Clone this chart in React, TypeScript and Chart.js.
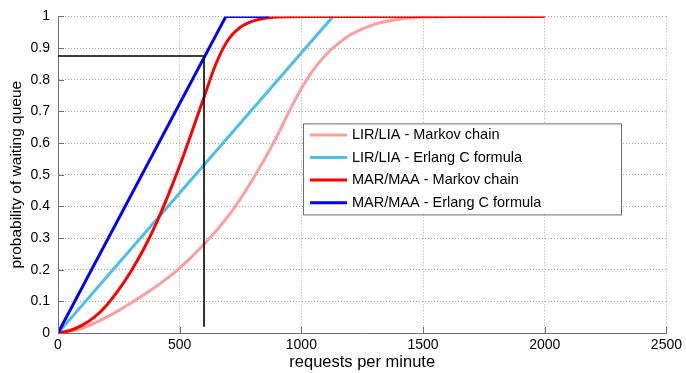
import React, { useEffect, useRef } from "react";
import { Chart, registerables } from "chart.js";

Chart.register(...registerables);

// ---- data ----
const xTickValues = [0, 500, 1000, 1500, 2000, 2500];
const yTickValues = [0, 0.1, 0.2, 0.3, 0.4, 0.5, 0.6, 0.7, 0.8, 0.9, 1];

const lirMarkovX = [0, 100, 200, 300, 400, 500, 600, 700, 800, 900, 950, 1000, 1050, 1100, 1150, 1200, 1300, 1400, 1500, 1600, 2000];
const lirMarkovY = [0, 0.015, 0.05, 0.095, 0.145, 0.205, 0.28, 0.37, 0.485, 0.622, 0.7, 0.772, 0.832, 0.878, 0.913, 0.941, 0.975, 0.991, 0.998, 1, 1];

const lirErlangX = [0, 1130];
const lirErlangY = [0, 1];

const marMarkovX = [0, 50, 100, 150, 200, 250, 300, 350, 400, 450, 500, 550, 600, 650, 700, 750, 800, 850, 900, 1000, 2000];
const marMarkovY = [0, 0.008, 0.025, 0.05, 0.088, 0.137, 0.195, 0.262, 0.34, 0.43, 0.528, 0.635, 0.745, 0.852, 0.927, 0.966, 0.985, 0.994, 0.998, 1, 1];

const marErlangX = [0, 690, 866];
const marErlangY = [0, 1, 1];

const markerX = [0, 600, 600];
const markerY = [0.875, 0.875, 0.02];

const seriesLabels = [
  "LIR/LIA - Markov chain",
  "LIR/LIA - Erlang C formula",
  "MAR/MAA - Markov chain",
  "MAR/MAA - Erlang C formula",
];
const seriesColors = ["#ff9c9c", "#4dbdee", "#ff0000", "#0000ff"];

const FONT = "'Liberation Sans', Arial, sans-serif";

const pts = (xs: number[], ys: number[]) => xs.map((x, i) => ({ x, y: ys[i] }));

const legendPlugin = {
  id: "boxLegend",
  afterDatasetsDraw(chart: any) {
    const { ctx, chartArea } = chart;
    const left = chartArea.left + 245;
    const top = chartArea.top + 107;
    const w = 318;
    const h = 91;
    ctx.save();
    ctx.fillStyle = "#ffffff";
    ctx.fillRect(left, top, w, h);
    ctx.strokeStyle = "#6e6e6e";
    ctx.lineWidth = 1;
    ctx.strokeRect(left + 0.5, top + 0.5, w, h);
    ctx.font = `14.5px ${FONT}`;
    ctx.textBaseline = "middle";
    ctx.textAlign = "left";
    const items = chart.data.datasets.filter((d: any) => d.showInLegend);
    items.forEach((d: any, i: number) => {
      const cy = top + 11.5 + i * 22.6;
      ctx.strokeStyle = d.borderColor;
      ctx.lineWidth = 3;
      ctx.beginPath();
      ctx.moveTo(left + 7, cy);
      ctx.lineTo(left + 44, cy);
      ctx.stroke();
      ctx.fillStyle = "#000000";
      ctx.fillText(d.label, left + 49, cy);
    });
    ctx.restore();
  },
};

const innerTicksPlugin = {
  id: "innerTicks",
  afterDraw(chart: any) {
    const { ctx, chartArea, scales } = chart;
    ctx.save();
    ctx.strokeStyle = "#6e6e6e";
    ctx.lineWidth = 1;
    xTickValues.forEach((v) => {
      const px = Math.round(scales.x.getPixelForValue(v)) + 0.5;
      ctx.beginPath();
      ctx.moveTo(px, chartArea.bottom);
      ctx.lineTo(px, chartArea.bottom - 6);
      ctx.stroke();
    });
    yTickValues.forEach((v) => {
      const py = Math.round(scales.y.getPixelForValue(v)) + 0.5;
      ctx.beginPath();
      ctx.moveTo(chartArea.left, py);
      ctx.lineTo(chartArea.left + 6, py);
      ctx.stroke();
    });
    ctx.restore();
  },
};

export default function App() {
  const canvasRef = useRef<HTMLCanvasElement | null>(null);

  useEffect(() => {
    if (!canvasRef.current) return;
    const xs = [lirMarkovX, lirErlangX, marMarkovX, marErlangX];
    const ys = [lirMarkovY, lirErlangY, marMarkovY, marErlangY];
    const drawOrder = [4, 3, 2, 1];
    const datasets: any[] = seriesLabels.map((label, i) => ({
      label,
      showInLegend: true,
      data: pts(xs[i], ys[i]),
      borderColor: seriesColors[i],
      backgroundColor: seriesColors[i],
      borderWidth: 3,
      pointRadius: 0,
      fill: false,
      cubicInterpolationMode: xs[i].length > 3 ? "monotone" : "default",
      tension: 0,
      order: drawOrder[i],
    }));
    datasets.push({
      label: "",
      showInLegend: false,
      data: pts(markerX, markerY),
      borderColor: "#000000",
      borderWidth: 1.6,
      pointRadius: 0,
      fill: false,
      tension: 0,
      order: 0,
    });

    const chart = new Chart(canvasRef.current, {
      type: "line",
      data: { datasets },
      plugins: [legendPlugin, innerTicksPlugin],
      options: {
        animation: false,
        responsive: false,
        devicePixelRatio: 1,
        layout: { padding: { top: 16, right: 16, left: 0, bottom: 0 } },
        plugins: {
          legend: { display: false },
          tooltip: { enabled: false },
        },
        scales: {
          x: {
            type: "linear",
            min: 0,
            max: 2500,
            afterBuildTicks: (scale: any) => {
              scale.ticks = xTickValues.map((v) => ({ value: v }));
            },
            afterFit: (scale: any) => {
              scale.height = 40;
            },
            ticks: {
              color: "#000",
              font: { family: FONT, size: 14 },
              padding: 4,
              maxRotation: 0,
              callback: (v: any) => String(v),
            },
            grid: {
              color: "#a8a8a8",
              lineWidth: 1,
              drawTicks: false,
            },
            border: { display: true, color: "#6e6e6e", width: 1, dash: [1, 2] },
            title: {
              display: true,
              text: "requests per minute",
              color: "#000",
              font: { family: FONT, size: 16.5 },
              padding: { top: 0, bottom: 1 },
            },
          },
          y: {
            type: "linear",
            min: 0,
            max: 1,
            afterBuildTicks: (scale: any) => {
              scale.ticks = yTickValues.map((v) => ({ value: v }));
            },
            afterFit: (scale: any) => {
              scale.width = 58;
            },
            ticks: {
              color: "#000",
              font: { family: FONT, size: 14 },
              padding: 8,
              callback: (v: any) => String(Number(Number(v).toFixed(1))),
            },
            grid: {
              color: "#a8a8a8",
              lineWidth: 1,
              drawTicks: false,
            },
            border: { display: true, color: "#6e6e6e", width: 1, dash: [1, 2] },
            title: {
              display: true,
              text: "probability of waiting queue",
              color: "#000",
              font: { family: FONT, size: 15.5 },
              padding: { top: 7, bottom: 0 },
            },
          },
        },
      } as any,
    });
    return () => chart.destroy();
  }, []);

  return (
    <div style={{ position: "absolute", left: 0, top: 0, width: 686, height: 373, background: "#fff" }}>
      <canvas ref={canvasRef} width={686} height={373} style={{ display: "block" }} />
    </div>
  );
}
